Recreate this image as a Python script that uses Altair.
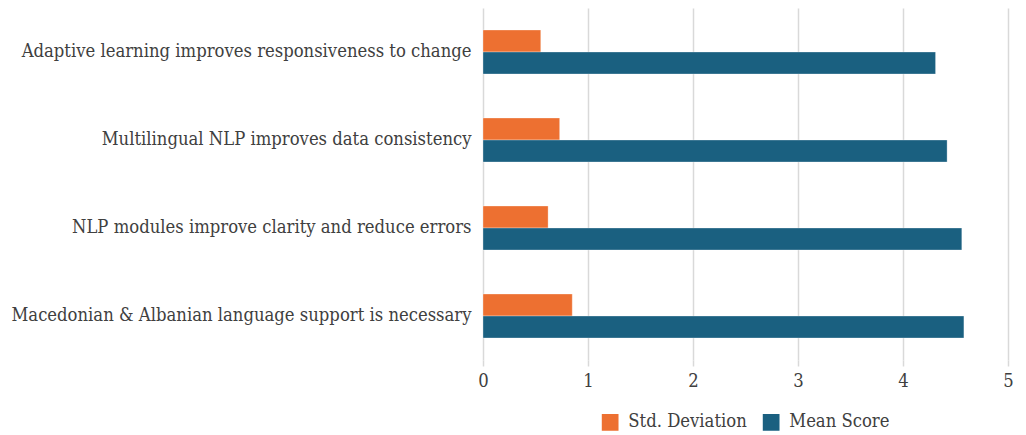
import altair as alt
import pandas as pd

categories = [
    "Adaptive learning improves responsiveness to change",
    "Multilingual NLP improves data consistency",
    "NLP modules improve clarity and reduce errors",
    "Macedonian & Albanian language support is necessary",
]
series = ["Std. Deviation", "Mean Score"]
std_dev = [0.55, 0.73, 0.62, 0.85]
mean_score = [4.31, 4.42, 4.56, 4.58]
colors = ["#ED7031", "#1A6080"]

rows = []
for c, s, m in zip(categories, std_dev, mean_score):
    rows.append({"Statement": c, "Series": series[0], "Value": s})
    rows.append({"Statement": c, "Series": series[1], "Value": m})
df = pd.DataFrame(rows)

FONT = "DejaVu Serif Condensed"
FS = 18.3

chart = alt.Chart(df).mark_bar(stroke="#ffffff", strokeWidth=0.5, strokeOpacity=0.6).encode(
    y=alt.Y("Statement:N", sort=categories, title=None,
            scale=alt.Scale(paddingInner=0.5, paddingOuter=0.25),
            axis=alt.Axis(ticks=False, domain=False, labelPadding=12, labelFontSize=FS,
                          labelColor="#404040", labelFont=FONT, labelLimit=600)),
    yOffset=alt.YOffset("Series:N", sort=series),
    x=alt.X("Value:Q", title=None, scale=alt.Scale(domain=[0, 5]),
            axis=alt.Axis(values=[0, 1, 2, 3, 4, 5], format="d", domain=False, ticks=True,
                          tickSize=6, tickColor="#d9d9d9", tickWidth=1.5, labelFlush=False,
                          gridColor="#d9d9d9", gridWidth=1.5, labelPadding=6,
                          labelFontSize=FS, labelColor="#404040", labelFont=FONT)),
    color=alt.Color("Series:N", sort=series,
                    scale=alt.Scale(domain=series, range=colors),
                    legend=alt.Legend(orient="none", direction="horizontal",
                                      legendX=118, legendY=405, title=None,
                                      symbolType="square", symbolSize=280, symbolStrokeWidth=0,
                                      labelFontSize=FS, labelColor="#404040", labelFont=FONT,
                                      columnPadding=15, labelOffset=9, labelLimit=300)),
).properties(
    width=525, height=352,
    autosize=alt.AutoSizeParams(type="none"),
    padding={"left": 475, "top": 0, "right": 10, "bottom": 75},
).configure_view(stroke=None)

chart.save("out.html", embed_options={"renderer": "svg", "actions": False})
